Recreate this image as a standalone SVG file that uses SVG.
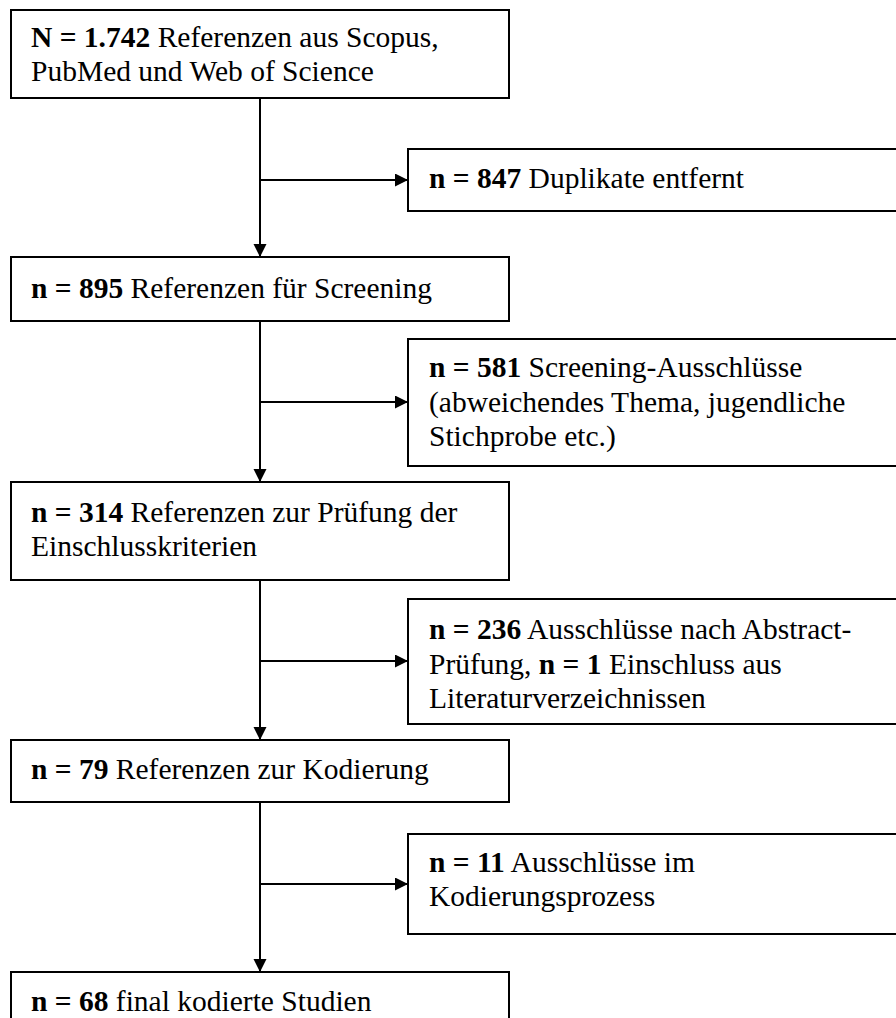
<svg xmlns="http://www.w3.org/2000/svg" width="896" height="1018" viewBox="0 0 896 1018">
<style>
.box{fill:#fff;stroke:#000;stroke-width:2}
.t{font-family:"Liberation Serif","Times New Roman",serif;font-size:29.5px;fill:#000}
.b{font-weight:bold}
.c{stroke:#000;stroke-width:2;fill:none}
</style>
<defs>
<marker id="ah" markerUnits="userSpaceOnUse" markerWidth="14" markerHeight="14" refX="13" refY="6.5" orient="auto">
<path d="M0,0 L13,6.5 L0,13 z" fill="#000"/>
</marker>
</defs>
<rect width="896" height="1018" fill="#fff"/>
<g id="connectors">
<path class="c" d="M260,98 V257" marker-end="url(#ah)"/>
<path class="c" d="M260,180 H408" marker-end="url(#ah)"/>
<path class="c" d="M260,321 V482" marker-end="url(#ah)"/>
<path class="c" d="M260,402 H408" marker-end="url(#ah)"/>
<path class="c" d="M260,580 V740" marker-end="url(#ah)"/>
<path class="c" d="M260,661 H408" marker-end="url(#ah)"/>
<path class="c" d="M260,802 V972" marker-end="url(#ah)"/>
<path class="c" d="M260,884 H408" marker-end="url(#ah)"/>
</g>
<g id="n1">
<rect class="box" x="11" y="10" width="498" height="88"/>
<text class="t" x="31" y="47"><tspan class="b">N = 1.742</tspan> Referenzen aus Scopus,</text>
<text class="t" x="31" y="81">PubMed und Web of Science</text>
</g>
<g id="n2">
<rect class="box" x="408" y="149" width="500" height="62"/>
<text class="t" x="429" y="188"><tspan class="b">n = 847</tspan> Duplikate entfernt</text>
</g>
<g id="n3">
<rect class="box" x="11" y="257" width="498" height="64"/>
<text class="t" x="31" y="298"><tspan class="b">n = 895</tspan> Referenzen für Screening</text>
</g>
<g id="n4">
<rect class="box" x="408" y="339" width="500" height="127"/>
<text class="t" x="429" y="377"><tspan class="b">n = 581</tspan> Screening-Ausschlüsse</text>
<text class="t" x="429" y="411.5">(abweichendes Thema, jugendliche</text>
<text class="t" x="429" y="446">Stichprobe etc.)</text>
</g>
<g id="n5">
<rect class="box" x="11" y="482" width="498" height="98"/>
<text class="t" x="31" y="522"><tspan class="b">n = 314</tspan> Referenzen zur Prüfung der</text>
<text class="t" x="31" y="556">Einschlusskriterien</text>
</g>
<g id="n6">
<rect class="box" x="408" y="599" width="500" height="125"/>
<text class="t" x="429" y="639"><tspan class="b">n = 236</tspan> Ausschlüsse nach Abstract-</text>
<text class="t" x="429" y="673.5">Prüfung, <tspan class="b">n = 1</tspan> Einschluss aus</text>
<text class="t" x="429" y="708">Literaturverzeichnissen</text>
</g>
<g id="n7">
<rect class="box" x="11" y="740" width="498" height="62"/>
<text class="t" x="31" y="779"><tspan class="b">n = 79</tspan> Referenzen zur Kodierung</text>
</g>
<g id="n8">
<rect class="box" x="408" y="834" width="500" height="100"/>
<text class="t" x="429" y="872"><tspan class="b">n = 11</tspan> Ausschlüsse im</text>
<text class="t" x="429" y="906">Kodierungsprozess</text>
</g>
<g id="n9">
<rect class="box" x="11" y="972" width="498" height="60"/>
<text class="t" x="31" y="1011"><tspan class="b">n = 68</tspan> final kodierte Studien</text>
</g>
</svg>
